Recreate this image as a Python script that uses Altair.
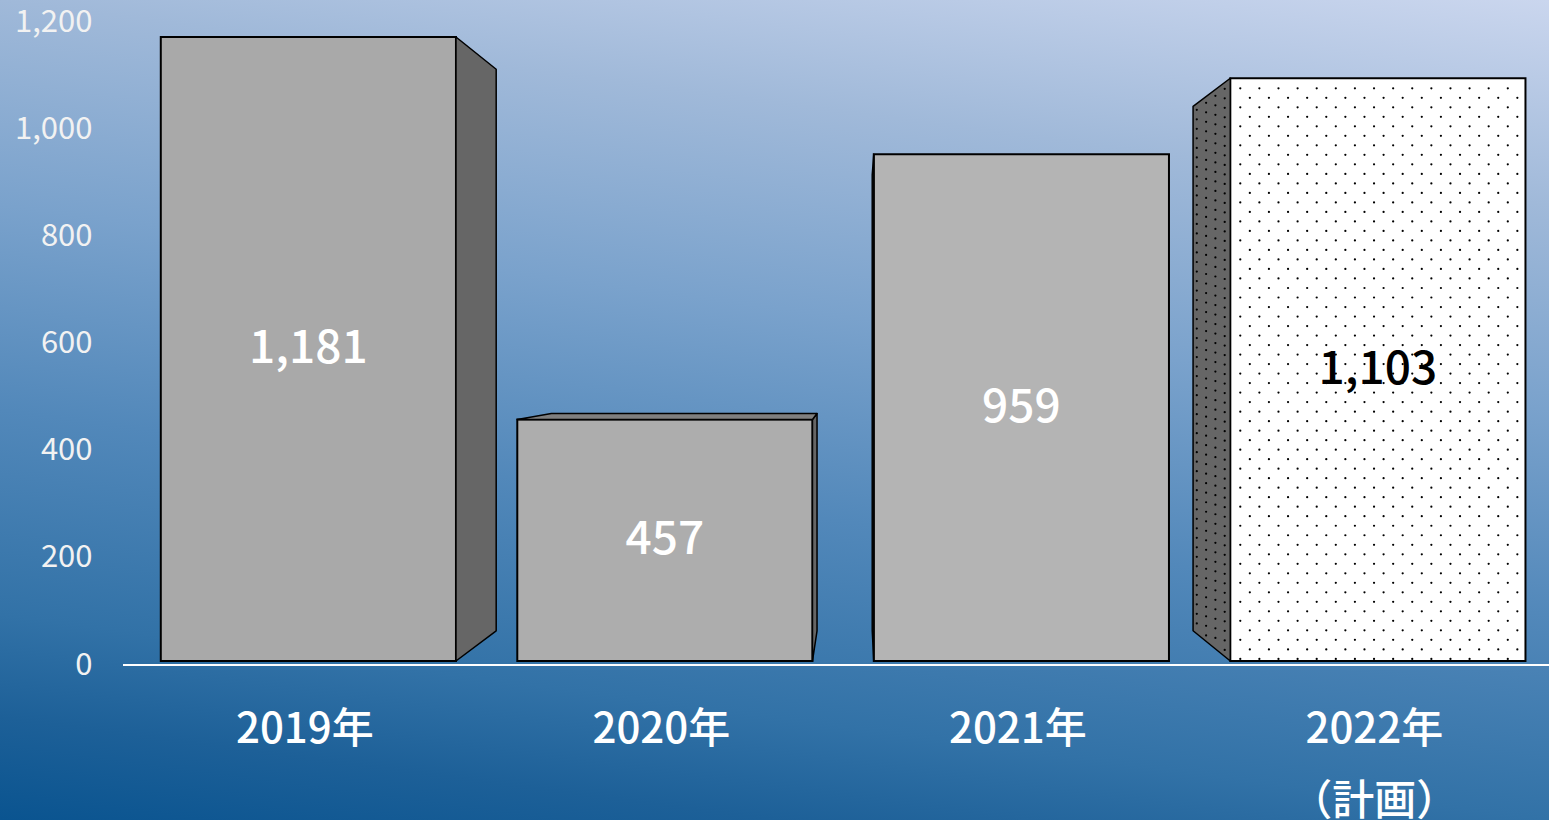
import numpy as np
import pandas as pd
import altair as alt

# ---- data ----
categories = ["2019年", "2020年", "2021年", "2022年"]
subtitles = ["", "", "", "（計画）"]
values = [1181, 457, 959, 1103]

# ---- styles ----
front_colors = ["#a9a9a9", "#adadad", "#b4b4b4", "#ffffff"]
label_colors = ["#ffffff", "#ffffff", "#ffffff", "#000000"]
patterned = [False, False, False, True]
FONT = "Noto Sans CJK JP"

W, H = 1426, 643
BAR_L, BAR_R = 0.106, 0.934      # bar extent within a category slot (x data units)
LABEL_POS = 0.51                 # category label position within a slot
VX, VY, DEPTH = 2.062, 572, 0.1  # perspective vanishing point & depth fraction
DOT_DX, DOT_DY = 0.0536, 18.0    # dot pattern spacing
bar_scale = alt.Scale(domain=[0, 1200], range=[H - 4, 5])
x_scale = alt.Scale(domain=[0, 4])

fronts = pd.DataFrame({
    "cat": categories,
    "v": values,
    "xl": [i + BAR_L for i in range(4)],
    "xr": [i + BAR_R for i in range(4)],
    "xlab": [i + LABEL_POS for i in range(4)],
    "lbl": [c + ("\n" + s if s else "") for c, s in zip(categories, subtitles)],
    "fill": front_colors,
    "tcolor": label_colors,
})
fronts["xc"] = (fronts["xl"] + fronts["xr"]) / 2
fronts["ym"] = fronts["v"] / 2

side_rows, top_rows, dot_rows = [], [], []
for i, v in enumerate(values):
    xl, xr = i + BAR_L, i + BAR_R
    vt = v + DEPTH * (VY - v)
    vb = DEPTH * VY
    if xr < VX:
        side_rows += [dict(face=f"r{i}", x=xr, top=v, bot=0),
                      dict(face=f"r{i}", x=xr + DEPTH * (VX - xr), top=vt, bot=vb)]
    if xl > VX:
        side_rows += [dict(face=f"l{i}", x=xl + DEPTH * (VX - xl), top=vt, bot=vb),
                      dict(face=f"l{i}", x=xl, top=v, bot=0)]
    if v < VY:
        top_rows += [dict(face=f"t{i}", y=v, xa=xl, xb=xr),
                     dict(face=f"t{i}", y=vt, xa=xl + DEPTH * (VX - xl), xb=xr + DEPTH * (VX - xr))]
    if patterned[i]:
        k = 0
        yy = v - 19
        while yy > 0:
            xx = xl + 0.028 + (k % 2) * DOT_DX / 2
            while xx < xr - 0.008:
                dot_rows.append(dict(x=xx, y=yy))
                xx += DOT_DX
            yy -= DOT_DY
            k += 1
        # dots on the receding side face
        for t in [0.15, 0.4, 0.65, 0.9]:
            xs = xl + t * DEPTH * (VX - xl)
            ytop = v + t * DEPTH * (VY - v)
            ybot = t * DEPTH * VY
            yy = ytop - 12
            while yy > ybot + 4:
                dot_rows.append(dict(x=xs, y=yy))
                yy -= DOT_DY
sides = pd.DataFrame(side_rows)
tops = pd.DataFrame(top_rows)
dots = pd.DataFrame(dot_rows)

# background gradient (full canvas)
bg = alt.Chart(pd.DataFrame({"a": [0]})).mark_rect(
    fill=alt.LinearGradient(
        gradient="linear", x1=1, y1=0, x2=0.706, y2=1.176,
        stops=[alt.GradientStop(color="#cad6ee", offset=0),
               alt.GradientStop(color="#a0b9d9", offset=0.2),
               alt.GradientStop(color="#7aa2cc", offset=0.4),
               alt.GradientStop(color="#5288ba", offset=0.6),
               alt.GradientStop(color="#3272a7", offset=0.8),
               alt.GradientStop(color="#1d6098", offset=0.9),
               alt.GradientStop(color="#0a5490", offset=1)]),
).encode(x=alt.value(-123), x2=alt.value(W), y=alt.value(-22), y2=alt.value(H + 155))

# baseline rule on the axis scale, carrying the y axis
base = alt.Chart(pd.DataFrame({"v": [0]})).mark_rule(color="#ffffff", strokeWidth=2).encode(
    y=alt.Y("v:Q", scale=alt.Scale(domain=[0, 1200]),
            axis=alt.Axis(values=list(range(0, 1201, 200)), format=",.0f", title=None,
                          domain=False, ticks=False, grid=False, labelFont=FONT,
                          labelFontSize=31, labelColor="#f2f2f2", labelPadding=31,
                          labelFlush=False, zindex=1)),
    x=alt.value(0), x2=alt.value(W),
)

front = alt.Chart(fronts).mark_rect(stroke="#000000", strokeWidth=2).encode(
    x=alt.X("xl:Q", scale=x_scale, axis=None),
    x2="xr:Q",
    y=alt.Y("v:Q", scale=bar_scale, axis=None),
    y2=alt.datum(0),
    fill=alt.Fill("fill:N", scale=None),
)

side = alt.Chart(sides).mark_area(fill="#666666", stroke="#000000", strokeWidth=1.5,
                                  strokeJoin="round").encode(
    x=alt.X("x:Q", scale=x_scale, axis=None),
    y=alt.Y("top:Q", scale=bar_scale, axis=None),
    y2="bot:Q",
    detail="face:N",
)

top = alt.Chart(tops).mark_area(orient="horizontal", fill="#7f7f7f", stroke="#000000",
                                strokeWidth=1.5, strokeJoin="round").encode(
    y=alt.Y("y:Q", scale=bar_scale, axis=None),
    x=alt.X("xa:Q", scale=x_scale, axis=None),
    x2="xb:Q",
    detail="face:N",
)

dot = alt.Chart(dots).mark_circle(size=5, color="#000000", opacity=1).encode(
    x=alt.X("x:Q", scale=x_scale, axis=None),
    y=alt.Y("y:Q", scale=bar_scale, axis=None),
)

text = alt.Chart(fronts).mark_text(font=FONT, fontSize=46, fontWeight=500).encode(
    x=alt.X("xc:Q", scale=x_scale, axis=None),
    y=alt.Y("ym:Q", scale=bar_scale, axis=None),
    text=alt.Text("v:Q", format=","),
    color=alt.Color("tcolor:N", scale=None),
)

# category labels under the baseline
cat_text = alt.Chart(fronts).mark_text(
    font=FONT, fontSize=42, fontWeight=500, color="#ffffff", baseline="top",
    lineBreak="\n", lineHeight=72,
).encode(
    x=alt.X("xlab:Q", scale=x_scale, axis=None),
    y=alt.value(H + 45),
    text="lbl:N",
)

bars = alt.layer(front, side, top, dot, text, cat_text)

chart = alt.layer(bg, base, bars).resolve_scale(y="independent").properties(
    width=W, height=H,
    autosize=alt.AutoSizeParams(type="none"),
    padding={"left": 123, "top": 22, "right": 0, "bottom": 155},
).configure_view(stroke=None).configure(font=FONT)

chart.save("out.html", embed_options={"renderer": "svg", "actions": False})
